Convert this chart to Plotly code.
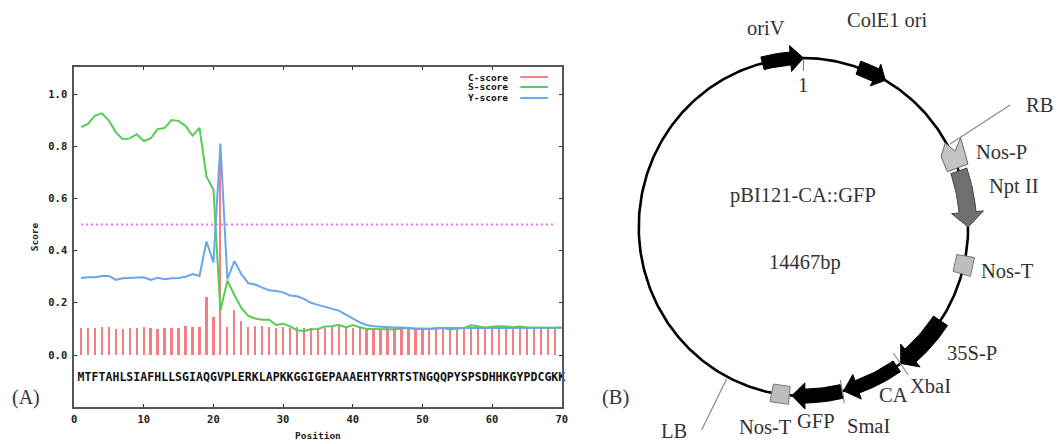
import numpy as np
import plotly.graph_objects as go

# ---- panel A data ----
sequence = "MTFTAHLSIAFHLLSGIAQGVPLERKLAPKKGGIGEPAAAEHTYRRTSTNGQQPYSPSDHHKGYPDCGKK"
positions = list(range(1, 71))
c_positions = list(range(1, 70))
c_score = [.103,.104,.104,.106,.109,.098,.101,.104,.104,.107,.102,.101,.104,.104,.104,.112,.108,.108,.222,.145,.785,
           .107,.172,.130,.107,.110,.110,.106,.104,.107,.104,.108,.103,.105,.102,.104,.106,.110,.105,.104,.103,
           .102,.102,.101,.102,.103,.102,.103,.103,.102,.101,.100,.103,.102,.103,.103,.103,.103,.102,.102,.101,
           .103,.102,.103,.103,.103,.103,.102,.102]
s_score = [.873,.885,.917,.926,.898,.853,.827,.830,.846,.820,.830,.865,.870,.900,.897,.878,.840,.870,.684,.633,
           .170,.285,.230,.180,.150,.140,.135,.135,.115,.120,.110,.095,.092,.099,.100,.109,.110,.116,.106,.115,
           .106,.100,.100,.100,.099,.098,.102,.103,.100,.100,.100,.101,.103,.098,.101,.104,.114,.109,.105,.108,
           .110,.109,.106,.109,.105,.105,.105,.104,.104,.104]
y_score = [.295,.298,.298,.303,.303,.288,.294,.295,.298,.298,.288,.296,.290,.294,.295,.300,.310,.303,.435,.355,
           .810,.290,.360,.310,.275,.270,.258,.248,.245,.240,.228,.225,.215,.200,.192,.185,.178,.170,.155,.140,
           .125,.115,.110,.108,.106,.105,.105,.103,.102,.102,.101,.103,.103,.102,.102,.102,.103,.103,.103,.102,
           .104,.104,.104,.104,.104,.104,.104,.104,.104,.105]
threshold_x = [1, 69]
threshold_y = [.5, .5]
y_ticks = [0, .2, .4, .6, .8, 1.0]
x_ticks = [0, 10, 20, 30, 40, 50, 60, 70]
legend_labels = ["C-score", "S-score", "Y-score"]

# ---- panel B data (angles: degrees clockwise from 12 o'clock) ----
arrow_names = ["oriV", "ColE1", "NptII", "35S-P", "CA", "GFP"]
arrow_tail = [-14.4, 19.5, 70.6, 123.7, 145.5, 166.5]
arrow_neck = [-4.5, 26.0, 85.0, 139.5, 161.0, 179.5]
arrow_tip = [0.0, 29.8, 90.0, 143.8, 165.9, 184.0]
arrow_body = [6.5, 7, 8.5, 8.5, 6.5, 7]
arrow_head = [13, 12, 16, 15, 13, 13]
arrow_fill = ["black", "black", "#707070", "black", "black", "black"]
box_angles = [103, 188]
nosp_theta = [69.5, 69.5, 61, 64, 60, 63.5]
nosp_off = [-11, 11, 15, 4, -1, -11]

C_RED, C_GREEN, C_BLUE = "#f27f86", "#55cc55", "#6aa6ec"
MONO = "DejaVu Sans Mono"
SERIF = "Liberation Serif"
INK = "#2a2a2a"
TXT = "#333333"

CX, CY, RX, RY = 803, 227, 165, 169


def ring(theta, off=0.0):
    t = np.radians(np.asarray(theta, dtype=float))
    off = np.asarray(off, dtype=float)
    return CX + (RX + off) * np.sin(t), CY - (RY + off) * np.cos(t)


fig = go.Figure()

# panel A
fig.add_trace(go.Bar(x=c_positions, y=c_score, width=0.33, marker=dict(color=C_RED, line_width=0),
                     name="C-score", showlegend=False))
fig.add_trace(go.Scatter(x=positions, y=s_score, mode="lines", line=dict(color=C_GREEN, width=2),
                         name="S-score", showlegend=False))
fig.add_trace(go.Scatter(x=positions, y=y_score, mode="lines", line=dict(color=C_BLUE, width=2),
                         name="Y-score", showlegend=False))
fig.add_trace(go.Scatter(x=threshold_x, y=threshold_y, mode="lines",
                         line=dict(color="#ee70ee", width=2, dash="2px 3px"), showlegend=False))
fig.add_trace(go.Scatter(x=positions, y=[-.09] * 70, mode="text", text=list(sequence),
                         textfont=dict(family=MONO, size=11.5, color="#111111", weight="bold"),
                         cliponaxis=False, showlegend=False))

# panel B ring
ring_t = np.linspace(0, 360, 361)
rx_, ry_ = ring(ring_t)
fig.add_trace(go.Scatter(x=rx_, y=ry_, xaxis="x2", yaxis="y2", mode="lines",
                         line=dict(color="black", width=2.6), showlegend=False))

# panel B arrows
for tail, neck, tip, body, head, col in zip(arrow_tail, arrow_neck, arrow_tip, arrow_body, arrow_head, arrow_fill):
    t = np.linspace(tail, neck, 14)
    xo, yo = ring(t, body)
    xi, yi = ring(t[::-1], -body)
    hx1, hy1 = ring([neck], head)
    tx, ty = ring([tip], 0)
    hx2, hy2 = ring([neck], -head)
    px = np.concatenate([xo, hx1, tx, hx2, xi, xo[:1]])
    py = np.concatenate([yo, hy1, ty, hy2, yi, yo[:1]])
    fig.add_trace(go.Scatter(x=px, y=py, xaxis="x2", yaxis="y2", mode="lines", fill="toself",
                             fillcolor=col, line=dict(color="#444444" if col != "black" else "black", width=1),
                             showlegend=False))

# Nos-P
px, py = ring(nosp_theta + nosp_theta[:1], nosp_off + nosp_off[:1])
fig.add_trace(go.Scatter(x=px, y=py, xaxis="x2", yaxis="y2", mode="lines", fill="toself",
                         fillcolor="#c4c4c4", line=dict(color="#666666", width=1), showlegend=False))

# Nos-T boxes
for a in box_angles:
    px, py = ring([a - 3.1, a + 3.1, a + 3.1, a - 3.1, a - 3.1], [9, 9, -9, -9, 9])
    fig.add_trace(go.Scatter(x=px, y=py, xaxis="x2", yaxis="y2", mode="lines", fill="toself",
                             fillcolor="#bdbdbd", line=dict(color="#777777", width=1), showlegend=False))

# leader lines and restriction ticks
leaders = [([803, 803], [60, 71]), ([950, 1010], [144, 105]), ([726, 701], [379, 430]),
           ([893, 908], [353, 375]), ([840, 844], [380, 403])]
for lx, ly in leaders:
    fig.add_trace(go.Scatter(x=lx, y=ly, xaxis="x2", yaxis="y2", mode="lines",
                             line=dict(color="#888888", width=1.2), showlegend=False))

anns = []
labels_b = [("oriV", 765, 28), ("ColE1 ori", 887, 20), ("1", 803, 85), ("RB", 1039, 105), ("Nos-P", 1001, 152),
            ("Npt II", 1014, 186), ("pBI121-CA::GFP", 803, 195), ("14467bp", 805, 262), ("Nos-T", 1007, 271),
            ("35S-P", 972, 353), ("XbaI", 930, 386), ("CA", 893, 395), ("SmaI", 868, 426), ("GFP", 816, 421),
            ("Nos-T", 765, 427), ("LB", 673, 431), ("(B)", 615, 397)]
for txt, x, y in labels_b:
    anns.append(dict(text=txt, x=x, y=y, xref="x2", yref="y2", showarrow=False,
                     font=dict(family=SERIF, size=20.5, color=TXT)))
anns.append(dict(text="(A)", x=23 / 1058, y=1 - 397 / 444, xref="paper", yref="paper", xanchor="center",
                 yanchor="middle", showarrow=False, font=dict(family=SERIF, size=20, color=TXT)))

# legend in panel A
shapes = []
for lab, col, yy in zip(legend_labels, [C_RED, C_GREEN, C_BLUE], [1.065, 1.027, .985]):
    anns.append(dict(text=lab, x=62.6, y=yy, xref="x", yref="y", xanchor="right", showarrow=False,
                     font=dict(family=MONO, size=9.5, color="#111111", weight="bold")))
    shapes.append(dict(type="line", x0=64.05, x1=68, y0=yy, y1=yy, xref="x", yref="y",
                       line=dict(color=col, width=2)))

axis_font = dict(family=MONO, size=10.5, color="#222222", weight="bold")
title_font = dict(family=MONO, size=9.5, color="#222222", weight="bold")
fig.update_layout(
    width=1058, height=444, margin=dict(l=0, r=0, t=0, b=0), autosize=False,
    paper_bgcolor="white", plot_bgcolor="white", showlegend=False, bargap=0,
    annotations=anns, shapes=shapes,
    xaxis=dict(domain=[71.7 / 1058, 563.6 / 1058], range=[0, 70], tickvals=x_ticks, ticks="inside", ticklen=3,
               tickwidth=1, tickcolor=INK, showgrid=False, zeroline=False, showline=True, linecolor="#555555",
               linewidth=1.5, mirror="ticks", tickfont=axis_font, ticktext=[str(v) for v in x_ticks],
               ticklabelstandoff=2, title=dict(text="Position", font=title_font, standoff=8)),
    yaxis=dict(domain=[1 - 407 / 444, 1 - 67 / 444], range=[-52 / 261, 288 / 261], tickvals=y_ticks,
               ticktext=[f"{v:.1f}" for v in y_ticks], ticks="inside", ticklen=3, tickwidth=1, tickcolor=INK,
               showgrid=False, zeroline=False, showline=True, linecolor="#555555", linewidth=1.5, mirror="ticks",
               ticklabelstandoff=3, tickfont=axis_font, title=dict(text="Score", font=title_font, standoff=8)),
    xaxis2=dict(domain=[582 / 1058, 1], range=[579.2, 1052], visible=False, anchor="y2"),
    yaxis2=dict(domain=[0, 1], range=[444, 0], visible=False, anchor="x2"),
)
fig.write_html("out.html", config={"displayModeBar": False}, post_script="document.body.style.margin='0';")
